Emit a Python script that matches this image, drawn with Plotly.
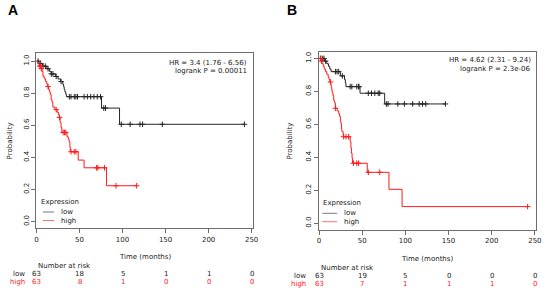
import plotly.graph_objects as go
import numpy as np

# ---------------- data ----------------
risk_times = [0, 50, 100, 150, 200, 250]
x_ticks = [0, 50, 100, 150, 200, 250]
y_ticks = [0.0, 0.2, 0.4, 0.6, 0.8, 1.0]

# Panel A
a_low_t = [0, 3, 7, 12, 15, 17, 22, 25, 28, 30.5, 31.5, 32.2, 33, 34, 34.8, 75.5, 96.5]
a_low_s = [1.0, 0.984, 0.968, 0.952, 0.936, 0.920, 0.904, 0.888, 0.872, 0.856, 0.840,
           0.824, 0.808, 0.793, 0.778, 0.707, 0.606]
a_low_cens = [1.9, 4.9, 7.6, 10.3, 13.4, 17.2, 19.1, 22.9, 28.6, 38.2, 40.1, 43.9, 45.8,
              47.7, 55.3, 59.1, 63, 66.7, 70.6, 74.4, 78.2, 80.2, 98.5, 108.8, 120.2,
              123.3, 146.2, 241.6]
a_high_t = [0, 1.5, 3, 5.5, 6.5, 7.5, 9, 10.5, 12, 13, 14, 15, 16, 17, 18, 19, 21.5, 24,
            25.5, 26.5, 27.5, 28.5, 29.5, 35.5, 37, 38, 38.8, 39.3, 48.5, 55.3, 81.3]
a_high_s = [1.0, 0.984, 0.968, 0.952, 0.936, 0.905, 0.889, 0.873, 0.857, 0.841, 0.825,
            0.809, 0.793, 0.761, 0.745, 0.713, 0.697, 0.681, 0.665, 0.649, 0.617, 0.585,
            0.555, 0.528, 0.513, 0.497, 0.466, 0.435, 0.383, 0.335, 0.223]
a_high_cens = [3.8, 4.9, 5.7, 13.4, 22.9, 26.7, 31, 32.5, 34, 40.1, 43.9, 45.8, 69.8,
               71.4, 79, 92.4, 116.4]
a_risk_low = [63, 18, 5, 1, 1, 0]
a_risk_high = [63, 8, 1, 0, 0, 0]
a_hr = "HR = 3.4 (1.76 - 6.56)"
a_p = "logrank P = 0.00011"

# Panel B
b_low_t = [0, 6, 9, 11, 12.5, 14, 24.7, 29.5, 30.5, 31.2, 47.5, 76]
b_low_s = [1.0, 0.984, 0.968, 0.952, 0.936, 0.920, 0.894, 0.872, 0.851, 0.829, 0.789, 0.724]
b_low_cens = [1.9, 3.8, 5.7, 7.6, 19, 20.9, 22.8, 27, 36.1, 38, 43.7, 45.7, 46.3, 57.1,
              60.8, 64.6, 68.5, 70.3, 78, 79.9, 91.3, 98.9, 108.5, 116, 119.9, 123.6, 146.4]
b_high_t = [0, 2, 3.5, 5, 6, 7.5, 9, 10.5, 11.5, 12.5, 13.5, 14.2, 14.8, 15.2, 16, 17, 18,
            19, 21, 22.8, 23.8, 24.7, 25.5, 26, 26.6, 28, 36.1, 36.9, 37.5, 38.3, 38.8,
            55.9, 81, 96.2]
b_high_s = [1.0, 0.984, 0.968, 0.952, 0.936, 0.920, 0.905, 0.889, 0.873, 0.857, 0.841,
            0.825, 0.809, 0.793, 0.777, 0.746, 0.730, 0.698, 0.682, 0.666, 0.650, 0.618,
            0.602, 0.570, 0.555, 0.525, 0.495, 0.459, 0.425, 0.395, 0.364, 0.309, 0.206,
            0.101]
b_high_cens = [1.5, 3, 13.3, 19, 28.5, 31.2, 34.2, 39.9, 43.7, 45.7, 57.1, 70.3, 241.6]
b_risk_low = [63, 19, 5, 0, 0, 0]
b_risk_high = [63, 7, 1, 1, 1, 0]
b_hr = "HR = 4.62 (2.31 - 9.24)"
b_p = "logrank P = 2.3e-06"

# ---------------- styling ----------------
W, H = 550, 292
FONT = "DejaVu Sans"
BLACK = "#262626"
RED = "#ff1a1a"
TXT = "#1a1a1a"
FS = 7


def px(x):
    return x / W


def py(y):
    return 1 - y / H


def step_fn(t, s, x):
    t = np.asarray(t)
    s = np.asarray(s)
    idx = np.searchsorted(t, x, side="right") - 1
    return s[idx]


fig = go.Figure()

panels = [
    dict(ax="", t_low=a_low_t, s_low=a_low_s, c_low=a_low_cens, t_high=a_high_t,
         s_high=a_high_s, c_high=a_high_cens, r_low=a_risk_low, r_high=a_risk_high,
         hr=a_hr, p=a_p, box=(35, 255, 52.7, 228.3), xr=[0, 251.9], yr=[-0.042, 1.052],
         label="A", label_xy=(11.5, 10), hr_xy=(251, 62.5, 71), ylab_x=8,
         xtitle_y=257, risk_y=(266, 274, 282), risk_lab_x=25,
         leg=(37.5, 202, 41.5, 53, 58, 212, 220.5)),
    dict(ax="2", t_low=b_low_t, s_low=b_low_s, c_low=b_low_cens, t_high=b_high_t,
         s_high=b_high_s, c_high=b_high_cens, r_low=b_risk_low, r_high=b_risk_high,
         hr=b_hr, p=b_p, box=(321.7, 541.7, 51.7, 230), xr=[0, 251.1], yr=[-0.041, 1.041],
         label="B", label_xy=(294.5, 10), hr_xy=(538.5, 60, 68.5), ylab_x=292,
         xtitle_y=258.5, risk_y=(267.5, 275.7, 284), risk_lab_x=311,
         leg=(323.5, 202.7, 325, 340, 345, 213.3, 221.7)),
]

annotations = []
shapes = []

for P in panels:
    xa = "x" + P["ax"]
    ya = "y" + P["ax"]
    # curves
    for t, s, c, col in [(P["t_low"], P["s_low"], P["c_low"], BLACK),
                         (P["t_high"], P["s_high"], P["c_high"], RED)]:
        tend = max(max(c), max(t))
        xs = list(t) + [tend]
        ys = list(s) + [s[-1]]
        fig.add_trace(go.Scatter(x=xs, y=ys, mode="lines", line=dict(color=col, width=1, shape="hv"),
                                 xaxis=xa, yaxis=ya, showlegend=False, hoverinfo="skip"))
        cy = step_fn(t, s, c)
        fig.add_trace(go.Scatter(x=c, y=cy, mode="markers",
                                 marker=dict(symbol="cross-thin", size=4,
                                             line=dict(color=col, width=1)),
                                 xaxis=xa, yaxis=ya, showlegend=False, hoverinfo="skip"))

    x0, x1, y0, y1 = P["box"]
    axis_common = dict(showgrid=False, zeroline=False, showline=True, mirror=True,
                       linecolor="#6e6e6e", linewidth=1, ticks="outside", ticklen=4,
                       tickcolor="#6e6e6e", tickfont=dict(family=FONT, size=FS, color=TXT))
    fig.layout["xaxis" + P["ax"]] = dict(
        domain=[px(x0), px(x1)], range=P["xr"], anchor=ya, tickvals=x_ticks,
        ticktext=[str(v) for v in x_ticks], **axis_common)
    fig.layout["yaxis" + P["ax"]] = dict(
        domain=[py(y1), py(y0)], range=P["yr"], anchor=xa, tickvals=y_ticks,
        ticktext=["%.1f" % v for v in y_ticks], tickangle=-90, **axis_common)

    # panel label
    annotations.append(dict(text="<b>%s</b>" % P["label"], x=px(P["label_xy"][0]),
                            y=py(P["label_xy"][1]), xref="paper", yref="paper",
                            showarrow=False, xanchor="center", yanchor="middle",
                            font=dict(family="Liberation Sans", size=14, color="black")))
    # HR text
    hx, hy1, hy2 = P["hr_xy"]
    for txt, yy in [(P["hr"], hy1), (P["p"], hy2)]:
        annotations.append(dict(text=txt, x=px(hx), y=py(yy), xref="paper", yref="paper",
                                showarrow=False, xanchor="right", yanchor="middle",
                                font=dict(family=FONT, size=FS, color=TXT)))
    # y title
    annotations.append(dict(text="Probability", x=px(P["ylab_x"]), y=py((y0 + y1) / 2),
                            xref="paper", yref="paper", showarrow=False, textangle=-90,
                            xanchor="center", yanchor="middle",
                            font=dict(family=FONT, size=FS, color=TXT)))
    # x title
    annotations.append(dict(text="Time (months)", x=px((x0 + x1) / 2), y=py(P["xtitle_y"]),
                            xref="paper", yref="paper", showarrow=False,
                            xanchor="center", yanchor="middle",
                            font=dict(family=FONT, size=FS, color=TXT)))
    # risk table
    ry0, ry1, ry2 = P["risk_y"]
    annotations.append(dict(text="Number at risk", x=px(x0), y=py(ry0), xref="paper",
                            yref="paper", showarrow=False, xanchor="left", yanchor="middle",
                            font=dict(family=FONT, size=FS, color=TXT)))
    annotations.append(dict(text="low", x=px(P["risk_lab_x"]), y=py(ry1), xref="paper",
                            yref="paper", showarrow=False, xanchor="right", yanchor="middle",
                            font=dict(family=FONT, size=FS, color=TXT)))
    annotations.append(dict(text="high", x=px(P["risk_lab_x"]), y=py(ry2), xref="paper",
                            yref="paper", showarrow=False, xanchor="right", yanchor="middle",
                            font=dict(family=FONT, size=FS, color=RED)))
    for tt, nl, nh in zip(risk_times, P["r_low"], P["r_high"]):
        annotations.append(dict(text=str(nl), x=tt, y=py(ry1), xref=xa, yref="paper",
                                showarrow=False, xanchor="center", yanchor="middle",
                                font=dict(family=FONT, size=FS, color=TXT)))
        annotations.append(dict(text=str(nh), x=tt, y=py(ry2), xref=xa, yref="paper",
                                showarrow=False, xanchor="center", yanchor="middle",
                                font=dict(family=FONT, size=FS, color=RED)))
    # legend
    lx, ly, l0, l1, ltx, lyl, lyh = P["leg"]
    annotations.append(dict(text="Expression", x=px(lx), y=py(ly), xref="paper", yref="paper",
                            showarrow=False, xanchor="left", yanchor="middle",
                            font=dict(family=FONT, size=FS, color=TXT)))
    for name, yy, col in [("low", lyl, "#7a7a7a"), ("high", lyh, "#ff7070")]:
        shapes.append(dict(type="line", xref="paper", yref="paper", x0=px(l0), x1=px(l1),
                           y0=py(yy), y1=py(yy), line=dict(color=col, width=1)))
        annotations.append(dict(text=name, x=px(ltx), y=py(yy), xref="paper", yref="paper",
                                showarrow=False, xanchor="left", yanchor="middle",
                                font=dict(family=FONT, size=FS, color=TXT)))

fig.update_layout(width=W, height=H, margin=dict(l=0, r=0, t=0, b=0),
                  paper_bgcolor="white", plot_bgcolor="white",
                  annotations=annotations, shapes=shapes, showlegend=False)

fig.write_html("out.html", config={"displayModeBar": False, "staticPlot": True},
               post_script="document.body.style.margin='0';document.body.style.overflow='hidden';")
